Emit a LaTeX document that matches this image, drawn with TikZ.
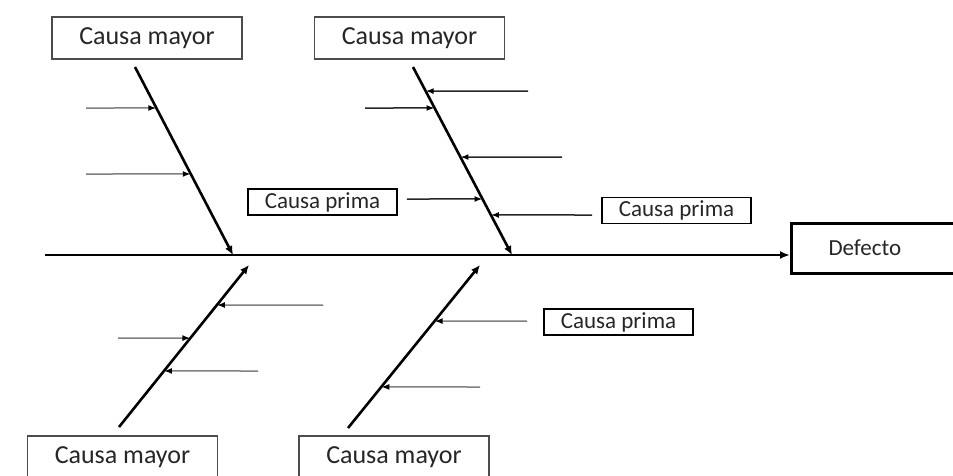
\documentclass[tikz,border=0pt]{standalone}
\usepackage{fontspec}
\setmainfont{Carlito}
\usetikzlibrary{arrows.meta, calc, positioning}

\tikzset{
  mayor/.style={draw=black!70, line width=1.3pt, minimum width=190pt, minimum height=42pt,
    inner sep=0pt, text=black!85, font=\fontsize{26}{30}\selectfont},
  prima/.style={draw, line width=1.8pt, minimum width=149pt, minimum height=26pt,
    inner sep=0pt, text=black!85, font=\fontsize{23}{26}\selectfont},
  efecto/.style={draw, line width=3pt, minimum height=50pt, inner ysep=0pt, inner xsep=37pt,
    text width=101pt, align=left, text=black!85, font=\fontsize{23}{26}\selectfont},
  spine/.style={line width=2.4pt, -{Latex[length=10pt,width=8pt]}},
  bone/.style={line width=2.6pt, -{Latex[length=9pt,width=8pt]}},
  twig/.style={draw=black!50, line width=1.5pt, -{Latex[length=8pt,width=6pt,black]}},
  twigdark/.style={twig, draw=black!85},
}

\begin{document}
\begin{tikzpicture}[x=1pt,y=-1pt]
  \clip (0,0) rectangle (953,475);

  % cause boxes
  \node[mayor] (mayorTL) at (147,38) {Causa mayor};
  \node[mayor] (mayorTM) at (409.5,38) {Causa mayor};
  \node[mayor] (mayorBL) at (122.5,457) {Causa mayor};
  \node[mayor] (mayorBM) at (394,457) {Causa mayor};

  \node[prima] (primaL) at (322.5,202) {Causa prima};
  \node[prima] (primaR) at (676.5,210.5) {Causa prima};
  \node[prima] (primaB) at (618.5,322) {Causa prima};

  \node[efecto, anchor=west] (defecto) at (790,248) {Defecto};

  % main spine
  \coordinate (tail) at (45,255);
  \draw[spine] (tail) -- (tail -| defecto.west);

  % bones (A = upper end, B = lower end)
  \coordinate (tlA) at (135,67);  \coordinate (tlB) at (233,255);
  \coordinate (tmA) at (413,67);  \coordinate (tmB) at (512,255);
  \coordinate (blA) at (249,265); \coordinate (blB) at (119,427);
  \coordinate (bmA) at (480,265); \coordinate (bmB) at (348,428);

  \draw[bone] (tlA) -- (tlB);
  \draw[bone] (tmA) -- (tmB);
  \draw[bone] (blB) -- (blA);
  \draw[bone] (bmB) -- (bmA);

  % small causes
  \foreach \s/\y/\t in {86/108/0.218, 86/174/0.569}
    \draw[twig] (\s,\y) -- ($(tlA)!\t!(tlB)$);
  \foreach \s/\y/\t in {528/91/0.128, 365/108/0.218, 562/157/0.479}
    \draw[twigdark] (\s,\y) -- ($(tmA)!\t!(tmB)$);
  \draw[twigdark] ([xshift=9pt,yshift=3pt]primaL.east) -- ($(tmA)!0.702!(tmB)$);
  \draw[twigdark] ([xshift=-9pt,yshift=-4.5pt]primaR.west) -- ($(tmA)!0.787!(tmB)$);

  \foreach \s/\y/\t in {323/305/0.247, 118/338/0.451, 258/371/0.654}
    \draw[twig] (\s,\y) -- ($(blA)!\t!(blB)$);
  \draw[twig] ([xshift=-16pt,yshift=1pt]primaB.west) -- ($(bmA)!0.344!(bmB)$);
  \draw[twig] (480,387) -- ($(bmA)!0.748!(bmB)$);
\end{tikzpicture}
\end{document}
